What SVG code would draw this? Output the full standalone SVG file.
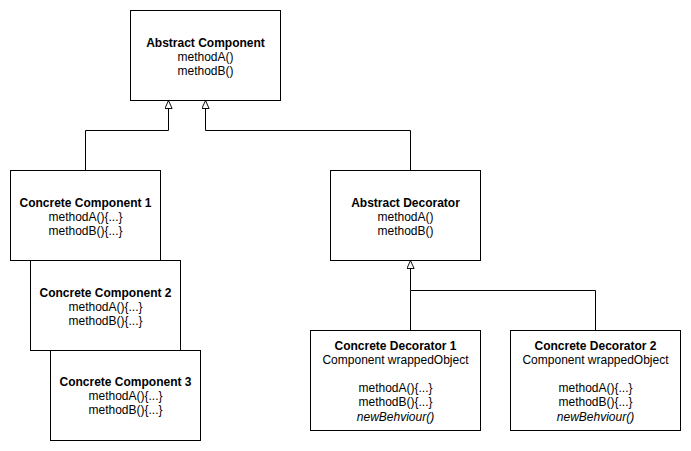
<svg xmlns="http://www.w3.org/2000/svg" width="691" height="451" viewBox="0 0 691 451">
<defs>
<marker id="tri" viewBox="0 0 10 10" refX="10" refY="5" markerWidth="8" markerHeight="8" markerUnits="userSpaceOnUse" orient="auto">
<path d="M0,0.5 L10,5 L0,9.5 Z" fill="#fff" stroke="#000" stroke-width="1.2"/>
</marker>
<style>
.box{fill:#fff;stroke:#000;stroke-width:1}
text{font-family:"Liberation Sans",Arial,Helvetica,sans-serif;font-size:12px;text-anchor:middle;fill:#000}
.b{font-weight:bold}
.i{font-style:italic}
.c{fill:none;stroke:#000;stroke-width:1}
</style>
</defs>
<rect width="691" height="451" fill="#fff"/>
<g id="connectors">
<path class="c" d="M85.5,170 V130.5 H168.5 V100.5" marker-end="url(#tri)"/>
<path class="c" d="M410.5,170 V130.5 H205.5 V100.5" marker-end="url(#tri)"/>
<path class="c" d="M410.5,330 V290.5 H410.5 V260.5" marker-end="url(#tri)"/>
<path class="c" d="M595.5,330 V290.5 H410.5"/>
</g>
<g id="abstract-component">
<rect class="box" x="130.5" y="10.5" width="150" height="90"/>
<text x="205.5" y="46.5" class="b">Abstract Component</text>
<text x="205.5" y="60.5">methodA()</text>
<text x="205.5" y="74.5">methodB()</text>
</g>
<g id="concrete-component-1">
<rect class="box" x="10.5" y="170.5" width="150" height="90"/>
<text x="85.5" y="206.5" class="b">Concrete Component 1</text>
<text x="85.5" y="220.5">methodA(){...}</text>
<text x="85.5" y="234.5">methodB(){...}</text>
</g>
<g id="concrete-component-2">
<rect class="box" x="30.5" y="260.5" width="150" height="90"/>
<text x="105.5" y="296.5" class="b">Concrete Component 2</text>
<text x="105.5" y="310.5">methodA(){...}</text>
<text x="105.5" y="324.5">methodB(){...}</text>
</g>
<g id="concrete-component-3">
<rect class="box" x="50.5" y="350.5" width="150" height="90"/>
<text x="125.5" y="386" class="b">Concrete Component 3</text>
<text x="125.5" y="400">methodA(){...}</text>
<text x="125.5" y="414">methodB(){...}</text>
</g>
<g id="abstract-decorator">
<rect class="box" x="330.5" y="170.5" width="150" height="90"/>
<text x="405.5" y="206.5" class="b">Abstract Decorator</text>
<text x="405.5" y="220.5">methodA()</text>
<text x="405.5" y="234.5">methodB()</text>
</g>
<g id="concrete-decorator-1">
<rect class="box" x="310.5" y="330.5" width="170" height="100"/>
<text x="395.5" y="349.5" class="b">Concrete Decorator 1</text>
<text x="395.5" y="363.7">Component wrappedObject</text>
<text x="395.5" y="392">methodA(){...}</text>
<text x="395.5" y="406.3">methodB(){...}</text>
<text x="395.5" y="420.5" class="i">newBehviour()</text>
</g>
<g id="concrete-decorator-2">
<rect class="box" x="510.5" y="330.5" width="170" height="100"/>
<text x="595.5" y="349.5" class="b">Concrete Decorator 2</text>
<text x="595.5" y="363.7">Component wrappedObject</text>
<text x="595.5" y="392">methodA(){...}</text>
<text x="595.5" y="406.3">methodB(){...}</text>
<text x="595.5" y="420.5" class="i">newBehviour()</text>
</g>
</svg>
